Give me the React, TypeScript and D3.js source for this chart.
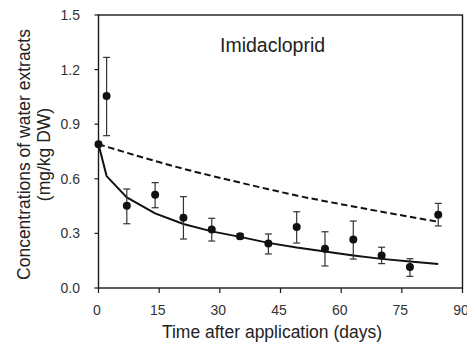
import React from "react";
import * as d3 from "d3";

const days = [0, 2, 7, 14, 21, 28, 35, 42, 49, 56, 63, 70, 77, 84];
const observed = [0.79, 1.055, 0.452, 0.513, 0.386, 0.322, 0.284, 0.245, 0.335, 0.216, 0.266, 0.178, 0.115, 0.403];
const errLow = [0.79, 0.837, 0.353, 0.441, 0.269, 0.258, 0.27, 0.187, 0.247, 0.121, 0.159, 0.134, 0.064, 0.341];
const errHigh = [0.79, 1.267, 0.544, 0.579, 0.502, 0.383, 0.298, 0.297, 0.419, 0.309, 0.368, 0.224, 0.161, 0.465];
const solidDays = [0, 2, 7, 14, 21, 28, 35, 42, 49, 56, 63, 70, 77, 84];
const fitSolid = [0.79, 0.615, 0.498, 0.41, 0.352, 0.311, 0.281, 0.248, 0.222, 0.2, 0.179, 0.16, 0.145, 0.132];
const dashedDays = [0, 7, 14, 21, 28, 35, 42, 49, 56, 63, 70, 77, 84];
const fitDashed = [0.79, 0.743, 0.698, 0.655, 0.616, 0.579, 0.543, 0.508, 0.477, 0.448, 0.419, 0.391, 0.364];
const xTicks = [0, 15, 30, 45, 60, 75, 90];
const yTicks = [0.0, 0.3, 0.6, 0.9, 1.2, 1.5];

const W = 467;
const H = 343;
const L = 98.5, R = 462.5, T = 15, B = 288;
const font = "'Liberation Sans', Arial, sans-serif";

export default function App() {
  const x = d3.scaleLinear().domain([0, 90]).range([L, R]);
  const y = d3.scaleLinear().domain([0, 1.5]).range([B, T]);
  const line = d3.line<number>().x((_, i) => x(solidDays[i])).y((d) => y(d));
  const dashLine = d3.line<number>().x((_, i) => x(dashedDays[i])).y((d) => y(d)).curve(d3.curveMonotoneX);
  const cap = 3.5;
  return (
    <svg width={W} height={H} style={{ position: "absolute", left: 0, top: 0 }} fontFamily={font}>
      <rect x={0} y={0} width={W} height={H} fill="#fff" />
      <rect x={L} y={T} width={R - L} height={B - T} fill="none" stroke="#1a1a1a" strokeWidth={1.4} />
      {yTicks.map((t) => (
        <g key={"y" + t}>
          <line x1={L - 4} x2={L} y1={y(t)} y2={y(t)} stroke="#1a1a1a" strokeWidth={1.2} />
          <text x={80} y={y(t)} dy="0.35em" textAnchor="end" fontSize={14} fill="#333">
            {t.toFixed(1)}
          </text>
        </g>
      ))}
      {xTicks.map((t) => (
        <g key={"x" + t}>
          <line x1={x(t)} x2={x(t)} y1={B} y2={B + 5} stroke="#1a1a1a" strokeWidth={1.2} />
          <text x={x(t) - 1.5} y={315} textAnchor="middle" fontSize={14} fill="#333">
            {t}
          </text>
        </g>
      ))}
      <path d={dashLine(fitDashed) || ""} fill="none" stroke="#111" strokeWidth={2} strokeDasharray="6.5,3.5" />
      <path d={line(fitSolid) || ""} fill="none" stroke="#111" strokeWidth={2} />
      {days.map((dd, i) => (
        <g key={"p" + dd}>
          {errHigh[i] - errLow[i] > 0.001 && (
            <g stroke="#333" strokeWidth={1.2}>
              <line x1={x(dd)} x2={x(dd)} y1={y(errLow[i])} y2={y(errHigh[i])} />
              <line x1={x(dd) - cap} x2={x(dd) + cap} y1={y(errLow[i])} y2={y(errLow[i])} />
              <line x1={x(dd) - cap} x2={x(dd) + cap} y1={y(errHigh[i])} y2={y(errHigh[i])} />
            </g>
          )}
          <circle cx={x(dd)} cy={y(observed[i])} r={4} fill="#111" />
        </g>
      ))}
      <text x={220} y={52} fontSize={19.5} fill="#222">Imidacloprid</text>
      <text x={272} y={338} textAnchor="middle" fontSize={17.5} fill="#222">
        Time after application (days)
      </text>
      <text transform={`translate(29.5,${(T + B) / 2 + 3}) rotate(-90)`} textAnchor="middle" fontSize={17.5} fill="#222">
        Concentrations of water extracts
      </text>
      <text transform={`translate(49.5,${(T + B) / 2 + 3}) rotate(-90)`} textAnchor="middle" fontSize={17.5} fill="#222">
        (mg/kg DW)
      </text>
    </svg>
  );
}
